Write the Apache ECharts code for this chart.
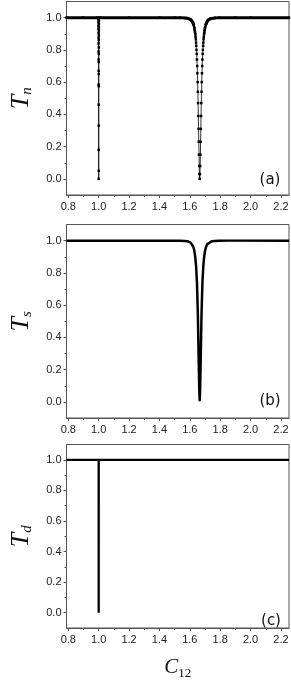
<!DOCTYPE html>
<html>
<head>
<meta charset="utf-8">
<script src="https://cdn.jsdelivr.net/npm/echarts@6/dist/echarts.min.js"></script>
<style>
html,body{margin:0;padding:0;background:#fff;}
#chart{width:291px;height:681px;}
</style>
</head>
<body>
<div id="chart"></div>
<script>
// ---- axis ranges & ticks ----
const xRange = [0.788, 2.253];
const yRange = [-0.1, 1.1];
const xMajor = [0.8, 1.0, 1.2, 1.4, 1.6, 1.8, 2.0, 2.2];
const xMinor = [0.9, 1.1, 1.3, 1.5, 1.7, 1.9, 2.1];
const yMajor = [0.0, 0.2, 0.4, 0.6, 0.8, 1.0];
const yMinor = [0.1, 0.3, 0.5, 0.7, 0.9];
const panelLabels = ['(a)', '(b)', '(c)'];
const yNames = ['n', 's', 'd'];

// ---- panel (a): T_n (points + line) ----
const tnX = [0.788, 0.9, 0.99,
  0.9987, 0.9988, 0.9989, 0.9990, 0.9991, 0.9992, 0.9993, 0.9994, 0.9995, 0.9996, 0.9997, 0.9998, 0.9999,
  1.0,
  1.0001, 1.0002, 1.0003, 1.0004, 1.0005, 1.0006, 1.0007, 1.0008, 1.0009, 1.0010, 1.0011, 1.0012, 1.0013, 1.0014,
  1.01, 1.2, 1.4, 1.5,
  1.535, 1.565, 1.585, 1.595, 1.605, 1.61, 1.615, 1.62, 1.623, 1.626, 1.629, 1.6305, 1.632, 1.6335, 1.635, 1.6365,
  1.638, 1.6395, 1.641, 1.6425, 1.644, 1.6455, 1.647, 1.6485, 1.65, 1.6515, 1.653, 1.6545, 1.656, 1.6575, 1.659,
  1.6605, 1.662, 1.6635, 1.665,
  1.6665, 1.668, 1.6695, 1.671, 1.6725, 1.674, 1.6755, 1.677, 1.6785, 1.68, 1.6815, 1.683, 1.6845, 1.686, 1.6875,
  1.689, 1.6905, 1.692, 1.6935, 1.695, 1.6965, 1.698, 1.6995, 1.701, 1.704, 1.707, 1.71, 1.715, 1.72, 1.725,
  1.735, 1.745, 1.765, 1.795,
  1.9, 2.0, 2.253];
const tnY = [1, 1, 1,
  0.99, 0.97, 0.95, 0.93, 0.905, 0.875, 0.84, 0.79, 0.74, 0.67, 0.585, 0.46, 0.18,
  0.0,
  0.05, 0.33, 0.575, 0.65, 0.725, 0.775, 0.815, 0.86, 0.89, 0.92, 0.94, 0.96, 0.98, 1.0,
  1, 1, 1, 1,
  1.0, 0.998, 0.996, 0.993, 0.988, 0.984, 0.978, 0.97, 0.962, 0.952, 0.94, 0.933, 0.925, 0.915, 0.905, 0.895,
  0.88, 0.865, 0.845, 0.825, 0.80, 0.775, 0.74, 0.70, 0.655, 0.60, 0.54, 0.47, 0.39, 0.31, 0.23,
  0.15, 0.08, 0.03, 0.0,
  0.03, 0.08, 0.15, 0.23, 0.31, 0.39, 0.47, 0.54, 0.60, 0.655, 0.70, 0.74, 0.775, 0.80, 0.825,
  0.845, 0.865, 0.88, 0.895, 0.905, 0.915, 0.925, 0.933, 0.94, 0.952, 0.962, 0.97, 0.978, 0.984, 0.988,
  0.993, 0.996, 0.998, 1.0,
  1, 1, 1];

// ---- panel (b): T_s (line) ----
const tsX = [0.788, 1.5, 1.535, 1.565, 1.585, 1.595, 1.605, 1.615, 1.623, 1.629, 1.635, 1.641, 1.647, 1.653, 1.659,
  1.662, 1.665, 1.668, 1.671, 1.677, 1.683, 1.689, 1.695, 1.701, 1.707, 1.715, 1.725, 1.745, 1.765, 1.795, 1.85, 2.253];
const tsY = [1, 1, 0.999, 0.998, 0.996, 0.993, 0.988, 0.978, 0.962, 0.94, 0.905, 0.845, 0.74, 0.54, 0.23,
  0.08, 0.01, 0.08, 0.23, 0.54, 0.74, 0.845, 0.905, 0.94, 0.962, 0.978, 0.988, 0.996, 0.998, 0.999, 1, 1];

// ---- panel (c): T_d (line) ----
const tdX = [0.788, 0.9999, 1.0, 1.0001, 2.253];
const tdY = [1, 1, 0.0, 1, 1];

const zip = (xs, ys) => xs.map((x, i) => [x, ys[i]]);
const tnData = zip(tnX, tnY);
// marker-saturated band near T=1 on both sides of the 1.665 dip
const bandLeft = tnData.filter(p => p[1] >= 0.95 && p[0] < 1.64 && (p[0] < 0.9985 || p[0] > 1.0015));
const bandRight = tnData.filter(p => p[1] >= 0.95 && p[0] > 1.69);

const tops = [1.5, 224.5, 444.5];
const heights = [193.5, 193.5, 194];
const axisCol = '#555';
const labelFont = 'Liberation Sans, Arial, sans-serif';
const serif = 'Liberation Serif, Times New Roman, serif';

const grids = [], xAxes = [], yAxes = [], series = [], graphics = [];
for (let i = 0; i < 3; i++) {
  grids.push({left: 48, width: 241, top: tops[i], height: heights[i], show: true,
    borderColor: axisCol, borderWidth: 1, backgroundColor: 'transparent'});
  const baseX = {type: 'value', gridIndex: i, min: xRange[0], max: xRange[1], position: 'bottom',
    splitLine: {show: false}};
  xAxes.push(Object.assign({}, baseX, {
    axisLine: {show: true, onZero: false, lineStyle: {color: axisCol, width: 1}},
    axisTick: {show: true, inside: false, length: 3, customValues: xMajor, lineStyle: {color: axisCol}},
    axisLabel: {show: true, customValues: xMajor, margin: 6, fontSize: 11, color: '#222',
      fontFamily: labelFont, formatter: v => v.toFixed(1)},
    name: i === 2 ? '{c|C}{s|12}' : '', nameLocation: 'middle', nameGap: 27,
    nameTextStyle: {rich: {
      c: {fontFamily: serif, fontStyle: 'italic', fontSize: 21, color: '#111'},
      s: {fontFamily: serif, fontSize: 13, color: '#111', verticalAlign: 'bottom', padding: [12, 0, 0, 0]}
    }}
  }));
  xAxes.push(Object.assign({}, baseX, {
    axisLine: {show: false, onZero: false},
    axisTick: {show: true, inside: false, length: 2, customValues: xMinor, lineStyle: {color: axisCol}},
    axisLabel: {show: false}
  }));
  const baseY = {type: 'value', gridIndex: i, min: yRange[0], max: yRange[1], position: 'left',
    splitLine: {show: false}};
  yAxes.push(Object.assign({}, baseY, {
    axisLine: {show: true, onZero: false, lineStyle: {color: axisCol, width: 1}},
    axisTick: {show: true, inside: false, length: 3, customValues: yMajor, lineStyle: {color: axisCol}},
    axisLabel: {show: true, customValues: yMajor, margin: 5, fontSize: 11, color: '#222',
      fontFamily: labelFont, formatter: v => v.toFixed(1)},
    name: '{t|T}{s|' + yNames[i] + '}', nameLocation: 'middle', nameRotate: 90, nameGap: 32,
    nameTextStyle: {rich: {
      t: {fontFamily: serif, fontStyle: 'italic', fontSize: 26, color: '#111'},
      s: {fontFamily: serif, fontStyle: 'italic', fontSize: 15, color: '#111', verticalAlign: 'bottom', padding: [12, 0, 0, 0]}
    }}
  }));
  yAxes.push(Object.assign({}, baseY, {
    axisLine: {show: false, onZero: false},
    axisTick: {show: true, inside: false, length: 2, customValues: yMinor, lineStyle: {color: axisCol}},
    axisLabel: {show: false}
  }));
}
const ax = i => ({xAxisIndex: 2 * i, yAxisIndex: 2 * i});

series.push(Object.assign({type: 'line', data: bandLeft, showSymbol: false, lineStyle: {color: '#000', width: 3}, z: 2}, ax(0)));
series.push(Object.assign({type: 'line', data: bandRight, showSymbol: false, lineStyle: {color: '#000', width: 3}, z: 2}, ax(0)));
series.push(Object.assign({type: 'line', data: tnData, symbol: 'rect', symbolSize: 2.5, showAllSymbol: true,
  itemStyle: {color: '#000'}, lineStyle: {color: '#000', width: 0.8}, z: 3}, ax(0)));
series.push(Object.assign({type: 'line', data: zip(tsX, tsY), showSymbol: false,
  lineStyle: {color: '#000', width: 2.5, join: 'round'}}, ax(1)));
series.push(Object.assign({type: 'line', data: zip(tdX, tdY), showSymbol: false,
  lineStyle: {color: '#000', width: 2.3}}, ax(2)));

const labelPos = [[270, 180], [270, 401], [271, 621]];
for (let i = 0; i < 3; i++) {
  graphics.push({type: 'text', x: labelPos[i][0], y: labelPos[i][1],
    style: {text: panelLabels[i], font: '15px "DejaVu Sans", sans-serif', fill: '#111',
      textAlign: 'center', textVerticalAlign: 'middle'}});
}

const chart = echarts.init(document.getElementById('chart'), null, {renderer: 'canvas'});
chart.setOption({
  animation: false,
  grid: grids, xAxis: xAxes, yAxis: yAxes, series: series, graphic: graphics
});
</script>
</body>
</html>
